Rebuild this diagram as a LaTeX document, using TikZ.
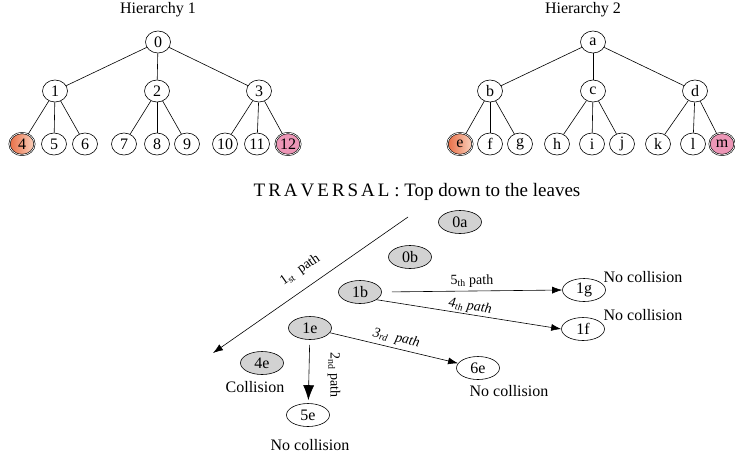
\documentclass[tikz,border=0pt]{standalone}
\usepackage{fontspec}
\setmainfont{Liberation Serif}
\usetikzlibrary{arrows.meta,shapes.geometric}
\definecolor{hitorange}{RGB}{232,110,70}
\definecolor{hitpale}{RGB}{250,210,190}
\definecolor{hitpink}{RGB}{236,150,182}
\begin{document}
\begin{tikzpicture}[x=1pt, y=-1pt, line width=0.6pt,
	every node/.style={font=\fontsize{16}{18}\selectfont},
	tnode/.style={draw, ellipse, inner sep=0pt, minimum width=25pt, minimum height=22pt},
	hitA/.style={tnode, double, double distance=0.7pt, left color=hitorange, right color=hitpale},
	hitB/.style={tnode, double, double distance=0.7pt, fill=hitpink},
	pnode/.style={draw, ellipse, inner sep=0pt, minimum width=43pt, minimum height=23pt},
	visited/.style={pnode, fill=gray!35},
	pathlbl/.style={font=\fontsize{14}{16}\selectfont, sloped, above},
	tip/.style={-{Latex[length=10pt, width=7pt]}}]
	\useasboundingbox (0,0) rectangle (735,459);
	% Hierarchy 1
	\node (h1) at (158,10) {Hierarchy 1};
	\node[tnode] (n0) at (158,42) {0};
	\node[tnode] (n1) at (55,91) {1};
	\node[tnode] (n2) at (157,91) {2};
	\node[tnode] (n3) at (259,91) {3};
	\foreach \p in {n1,n2,n3} \draw (n0) -- (\p);
	\foreach \lbl/\x/\p/\sty in {4/22/n1/hitA, 5/54/n1/tnode, 6/85/n1/tnode,
		7/124/n2/tnode, 8/157/n2/tnode, 9/187/n2/tnode,
		10/225/n3/tnode, 11/257/n3/tnode, 12/288/n3/hitB}{
		\node[\sty] (n\lbl) at (\x,144) {\lbl};
		\draw (\p) -- (n\lbl);
	}
	% Hierarchy 2
	\node (h2) at (583,10) {Hierarchy 2};
	\node[tnode] (na) at (593,42) {a};
	\node[tnode] (nb) at (490,91) {b};
	\node[tnode] (nc) at (593,91) {c};
	\node[tnode] (nd) at (695,91) {d};
	\foreach \p in {nb,nc,nd} \draw (na) -- (\p);
	\foreach \lbl/\x/\p/\sty in {e/460/nb/hitA, f/490/nb/tnode, g/520/nb/tnode,
		h/557/nc/tnode, i/592/nc/tnode, j/622/nc/tnode,
		k/658/nd/tnode, l/693/nd/tnode, m/722/nd/hitB}{
		\node[\sty] (n\lbl) at (\x,144) {\lbl};
		\draw (\p) -- (n\lbl);
	}
	% Traversal
	\node[font=\fontsize{19}{21}\selectfont] (trav) at (417,192) {T\hspace{3pt}R\hspace{3pt}A\hspace{3pt}V\hspace{3pt}E\hspace{3pt}R\hspace{3pt}S\hspace{3pt}A\hspace{3pt}L : Top down to the leaves};
	\node[visited] (v0a) at (460,222) {0a};
	\node[visited] (v0b) at (410,257) {0b};
	\node[visited] (v1b) at (360,292) {1b};
	\node[visited] (v1e) at (310,328) {1e};
	\node[visited] (v4e) at (262,363) {4e};
	\node[pnode] (p5e) at (308,415) {5e};
	\node[pnode] (p6e) at (478,368) {6e};
	\node[pnode] (p1f) at (583,329) {1f};
	\node[pnode] (p1g) at (584,290) {1g};
	\node (c4e) at (255,387) {Collision};
	\node (c5e) at (310,445) {No collision};
	\node (c6e) at (509,391) {No collision};
	\node (c1g) at (643,277) {No collision};
	\node (c1f) at (643,315) {No collision};
	% paths
	\coordinate (s1) at (408,217);
	\coordinate (e1) at (213,353);
	\draw[{Latex[length=10pt, width=7pt]}-] (e1) -- node[pathlbl, above=8pt, pos=0.5] {1\textsubscript{st}\ \ path} (s1);
	\draw[-{Latex[length=15pt, width=11pt]}, shorten <=5pt, shorten >=3pt] (v1e) -- node[pos=0.55, xshift=25pt, rotate=-90, font=\fontsize{14}{16}\selectfont] {2\textsubscript{nd}\ path} (p5e);
	\draw[tip] (v1e) -- node[pathlbl, font=\fontsize{14}{16}\selectfont\itshape] {3\textsubscript{rd}\ \ path} (p6e);
	\draw[tip] (v1b.-25) -- node[pathlbl, inner sep=1pt, font=\fontsize{14}{16}\selectfont\itshape] {4\textsubscript{th} path} (p1f.west);
	\draw[tip, shorten <=10pt] (v1b.east) -- node[pathlbl] {5\textsubscript{th} path} (p1g.west);
\end{tikzpicture}
\end{document}
